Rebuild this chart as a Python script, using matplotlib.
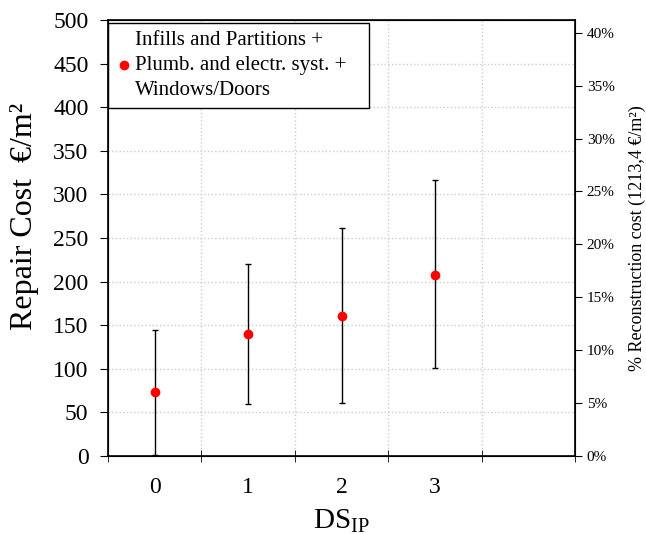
import numpy as np
import matplotlib
matplotlib.use('Agg')
import matplotlib.pyplot as plt
from matplotlib.lines import Line2D

plt.rcParams['font.family'] = ['Liberation Serif', 'DejaVu Serif']
plt.rcParams['mathtext.fontset'] = 'custom'
plt.rcParams['mathtext.rm'] = 'Liberation Serif'

ds = [0, 1, 2, 3]
cost_mean = [73, 140, 161, 208]
cost_low = [1, 60, 61, 101]
cost_high = [144, 220, 261, 316]
recon_cost = 1213.4
legend_label = 'Infills and Partitions +\nPlumb. and electr. syst. +\nWindows/Doors'

fig = plt.figure(figsize=(6.46, 5.34), dpi=100)
ax = fig.add_axes([108/646, 1-456/534, (575-108)/646, (456-20)/534])

mean = np.array(cost_mean)
yerr = [mean - np.array(cost_low), np.array(cost_high) - mean]
ax.errorbar(ds, cost_mean, yerr=yerr, fmt='o', color='red', ms=6,
            ecolor='black', elinewidth=1, capsize=2.5, capthick=1, zorder=3)

ax.set_xlim(-0.5, 4.5)
ax.set_ylim(0, 500)
ax.set_xticks([0, 1, 2, 3])
ax.set_xticks(np.arange(-0.5, 5, 1), minor=True)
ax.set_yticks(np.arange(0, 501, 50))
ax.tick_params(axis='x', which='major', length=0, labelsize=17, pad=15)
ax.tick_params(axis='x', which='minor', direction='inout', length=9)
ax.tick_params(axis='y', direction='out', length=6, labelsize=17, pad=8)
ax.grid(True, which='minor', axis='x', color='#cccccc', linestyle=':', linewidth=1)
ax.grid(True, which='major', axis='y', color='#cccccc', linestyle=':', linewidth=1)
ax.set_xlabel('DS$_{\\mathrm{IP}}$', fontsize=21)
ax.xaxis.set_label_coords(0.5, -0.118)
ax.set_ylabel('Repair Cost  €/m²', fontsize=23)
ax.yaxis.set_label_coords(-0.148, 0.55)
for s in ax.spines.values():
    s.set_linewidth(1.2)

ax2 = ax.twinx()
ax2.set_ylim(0, 500 / recon_cost)
ax2.set_yticks(np.arange(0, 0.41, 0.05))
ax2.set_yticklabels(['%d%%' % round(v * 100) for v in np.arange(0, 0.41, 0.05)])
ax2.tick_params(axis='y', direction='out', length=5, labelsize=11)
ax2.set_ylabel('% Reconstruction cost (1213,4 €/m²)', fontsize=13, labelpad=10)

handle = Line2D([], [], marker='o', color='red', linestyle='none', ms=6)
leg = ax.legend([handle], [legend_label], loc='upper left', fontsize=15,
                bbox_to_anchor=(0.0, 0.0, (369 - 108) / 467, 0.993), mode='expand',
                frameon=True, fancybox=False,
                edgecolor='black', framealpha=1, handletextpad=0.2,
                borderaxespad=0, handlelength=0.7, borderpad=0.4)
leg.get_frame().set_linewidth(1)
for t in leg.get_texts():
    t.set_linespacing(1.4)

fig.savefig('out.png', dpi=100)
